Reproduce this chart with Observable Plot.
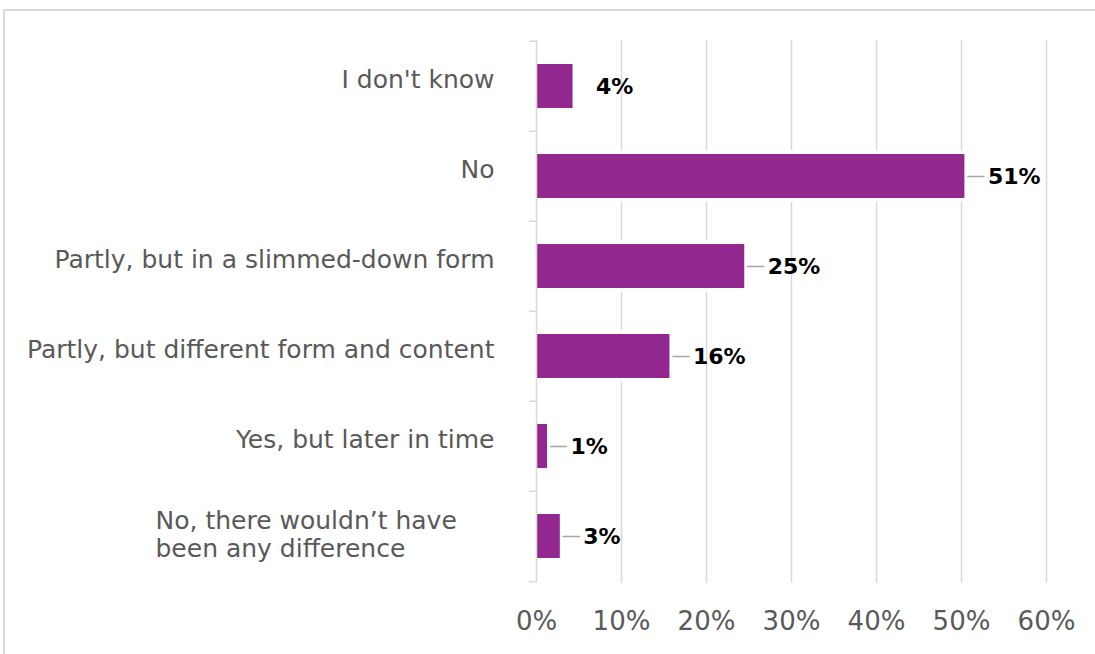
<!DOCTYPE html>
<html><head><meta charset="utf-8">
<script src="https://cdn.jsdelivr.net/npm/d3@7"></script>
<script src="https://cdn.jsdelivr.net/npm/@observablehq/plot@0.6"></script>
<style>
body{margin:0;background:#fff;overflow:hidden;}
#wrap{position:relative;width:1095px;height:654px;}
#border{position:absolute;left:3px;top:9px;width:1200px;height:800px;border:2px solid #d9d9d9;pointer-events:none;}
</style></head><body><div id="wrap"><div id="border"></div></div>
<script>
const categories = ["I don't know","No","Partly, but in a slimmed-down form","Partly, but different form and content","Yes, but later in time","No, there wouldn’t have\nbeen any difference"];
const values = [0.043,0.504,0.245,0.157,0.013,0.028];
const valueLabels = ["4%","51%","25%","16%","1%","3%"];
const xTicks = [0,0.1,0.2,0.3,0.4,0.5,0.6];

const data = categories.map((c,i)=>({category:c, value:values[i], label:valueLabels[i], i}));
const singleLine = data.filter(d=>!d.category.includes("\n"));
const multiLine = data.filter(d=>d.category.includes("\n"));
const font = "'DejaVu Sans', sans-serif";
const W=1095,H=654,mT=40,mB=71,mL=536,mR=49;
const step=(H-mT-mB)/categories.length;
const line = {draw(ctx,l){ctx.moveTo(0,0);ctx.lineTo(0,-l);}};

const chart = Plot.plot({
  width:W, height:H, marginLeft:mL, marginRight:mR, marginTop:mT, marginBottom:mB,
  style:{fontFamily:font, background:"transparent", overflow:"visible"},
  x:{domain:[0,0.6]},
  y:{domain:categories, paddingInner:0.51, paddingOuter:0.255},
  marks:[
    Plot.gridX(xTicks.slice(1), {stroke:"#d9d9d9", strokeOpacity:1, strokeWidth:1.5}),
    Plot.barX(data,{x:"value", y:"category", fill:"white", stroke:"white", strokeWidth:8}),
    Plot.barX(data,{x:"value", y:"category", fill:"#92278f"}),
    Plot.ruleX([0],{stroke:"#d9d9d9", strokeWidth:1.5}),
    Plot.axisY({tickSize:7, dy:-step/2, tickFormat:()=>"", stroke:"#d9d9d9", strokeWidth:1.5, label:null}),
    Plot.axisY([categories[categories.length-1]],{tickSize:7, dy:step/2, tickFormat:()=>"", stroke:"#d9d9d9", strokeWidth:1.5, label:null}),
    Plot.axisX(xTicks,{tickSize:0, tickPadding:28, tickFormat:d=>Math.round(d*100)+"%", fontSize:26, fill:"#595959", label:null}),
    Plot.text(singleLine,{x:()=>0, y:"category", text:"category", textAnchor:"end", dx:-42, dy:-7, fontSize:25, fill:"#595959"}),
    Plot.text(multiLine,{x:()=>0, y:"category", text:"category", textAnchor:"start", dx:-381, dy:-2, fontSize:25, lineHeight:1.12, fill:"#595959"}),
    Plot.vector(data.filter(d=>d.i>0),{x:"value", y:"category", length:16, rotate:90, anchor:"start", dx:3, shape:line, stroke:"#a6a6a6", strokeWidth:1.5}),
    Plot.text(data,{x:"value", y:"category", text:"label", textAnchor:"start", dx:23, fontSize:22, fontWeight:"bold", fill:"#000"})
  ]
});
document.getElementById("wrap").prepend(chart);
</script></body></html>
